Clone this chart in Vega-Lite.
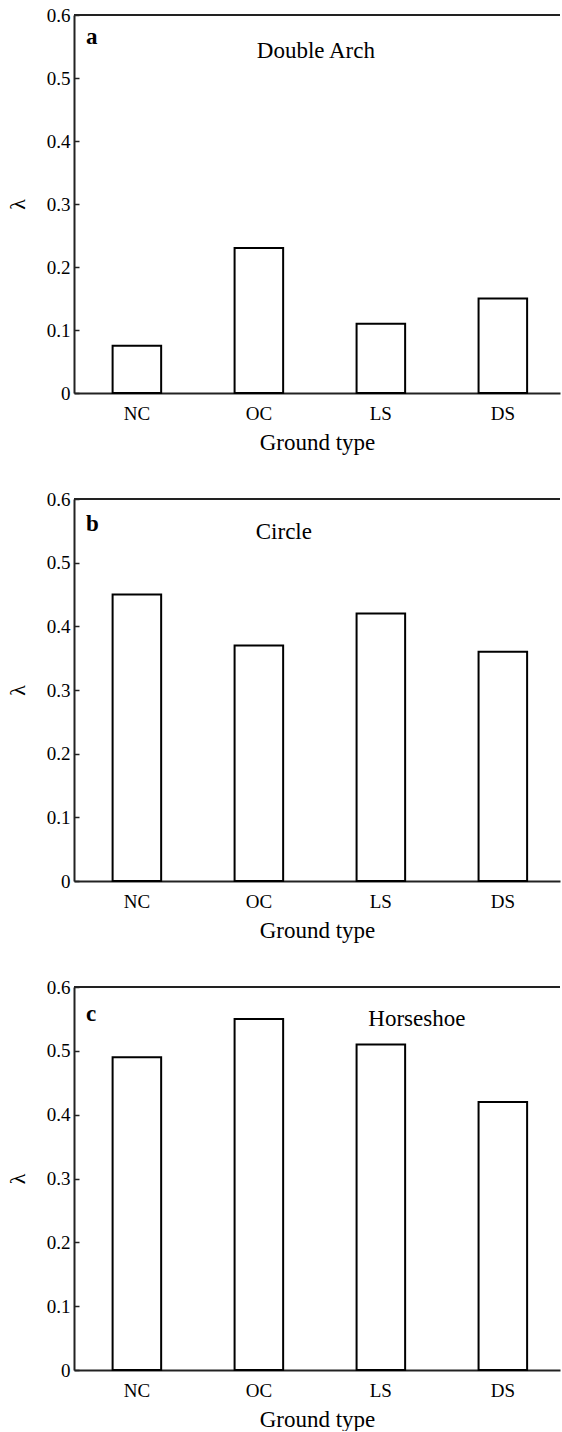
{
  "$schema": "https://vega.github.io/schema/vega-lite/v6.json",
  "padding": {"left": 6, "top": 6, "right": 0, "bottom": 0},
  "background": "white",
  "bounds": "flush",
  "spacing": 106,
  "config": {
    "view": {"stroke": null},
    "font": "Liberation Serif, Times New Roman, serif",
    "text": {"font": "Liberation Serif, Times New Roman, serif"},
    "axisX": {
      "ticks": false,
      "labelAngle": 0,
      "labelFont": "Liberation Serif, Times New Roman, serif",
      "labelFontSize": 19,
      "labelColor": "black",
      "labelPadding": 11,
      "titleFont": "Liberation Serif, Times New Roman, serif",
      "titleFontSize": 23,
      "titleFontWeight": "normal",
      "titleColor": "black",
      "titlePadding": 8,
      "domainColor": "#222",
      "domainWidth": 2
    },
    "axisY": {
      "grid": false,
      "tickSize": -5,
      "tickColor": "#222",
      "tickWidth": 1.5,
      "labelFont": "Liberation Serif, Times New Roman, serif",
      "labelFontSize": 19,
      "labelColor": "black",
      "labelPadding": 9,
      "titleFont": "Liberation Serif, Times New Roman, serif",
      "titleFontSize": 22,
      "titleFontWeight": "normal",
      "titleColor": "black",
      "titlePadding": 17,
      "domainColor": "#222",
      "domainWidth": 2
    }
  },
  "vconcat": [
    {
      "width": 486,
      "height": 378,
      "data": {"values": [
        {"ground": "NC", "lambda": 0.075},
        {"ground": "OC", "lambda": 0.23},
        {"ground": "LS", "lambda": 0.11},
        {"ground": "DS", "lambda": 0.15}
      ]},
      "layer": [
        {
          "mark": {"type": "bar", "fill": "white", "stroke": "black", "strokeWidth": 2},
          "encoding": {
            "x": {"field": "ground", "type": "nominal", "sort": ["NC", "OC", "LS", "DS"], "title": "Ground type",
                  "scale": {"paddingInner": 0.602, "paddingOuter": 0.293, "align": 0.54}},
            "y": {"field": "lambda", "type": "quantitative", "title": "λ", "scale": {"domain": [0, 0.6], "nice": false},
                  "axis": {"values": [0, 0.1, 0.2, 0.3, 0.4, 0.5, 0.6], "format": "~g"}}
          }
        },
        {
          "data": {"values": [{"edge": "top"}]},
          "mark": {"type": "rule", "stroke": "#222", "strokeWidth": 2},
          "encoding": {"y": {"datum": 0.6}}
        },
        {
          "data": {"values": [{"tag": "a"}]},
          "mark": {"type": "text", "align": "left", "fontWeight": "bold", "fontSize": 23, "dx": -51, "dy": 22, "color": "black"},
          "encoding": {"x": {"datum": "NC"}, "y": {"datum": 0.6}, "text": {"field": "tag"}}
        },
        {
          "data": {"values": [{"shape": "Double Arch"}]},
          "mark": {"type": "text", "align": "center", "fontSize": 23, "dx": 57, "dy": 36, "color": "black"},
          "encoding": {"x": {"datum": "OC"}, "y": {"datum": 0.6}, "text": {"field": "shape"}}
        }
      ]
    },
    {
      "width": 486,
      "height": 382,
      "data": {"values": [
        {"ground": "NC", "lambda": 0.45},
        {"ground": "OC", "lambda": 0.37},
        {"ground": "LS", "lambda": 0.42},
        {"ground": "DS", "lambda": 0.36}
      ]},
      "layer": [
        {
          "mark": {"type": "bar", "fill": "white", "stroke": "black", "strokeWidth": 2},
          "encoding": {
            "x": {"field": "ground", "type": "nominal", "sort": ["NC", "OC", "LS", "DS"], "title": "Ground type",
                  "scale": {"paddingInner": 0.602, "paddingOuter": 0.293, "align": 0.54}},
            "y": {"field": "lambda", "type": "quantitative", "title": "λ", "scale": {"domain": [0, 0.6], "nice": false},
                  "axis": {"values": [0, 0.1, 0.2, 0.3, 0.4, 0.5, 0.6], "format": "~g"}}
          }
        },
        {
          "data": {"values": [{"edge": "top"}]},
          "mark": {"type": "rule", "stroke": "#222", "strokeWidth": 2},
          "encoding": {"y": {"datum": 0.6}}
        },
        {
          "data": {"values": [{"tag": "b"}]},
          "mark": {"type": "text", "align": "left", "fontWeight": "bold", "fontSize": 23, "dx": -51, "dy": 25, "color": "black"},
          "encoding": {"x": {"datum": "NC"}, "y": {"datum": 0.6}, "text": {"field": "tag"}}
        },
        {
          "data": {"values": [{"shape": "Circle"}]},
          "mark": {"type": "text", "align": "center", "fontSize": 23, "dx": 25, "dy": 33, "color": "black"},
          "encoding": {"x": {"datum": "OC"}, "y": {"datum": 0.6}, "text": {"field": "shape"}}
        }
      ]
    },
    {
      "width": 486,
      "height": 383,
      "data": {"values": [
        {"ground": "NC", "lambda": 0.49},
        {"ground": "OC", "lambda": 0.55},
        {"ground": "LS", "lambda": 0.51},
        {"ground": "DS", "lambda": 0.42}
      ]},
      "layer": [
        {
          "mark": {"type": "bar", "fill": "white", "stroke": "black", "strokeWidth": 2},
          "encoding": {
            "x": {"field": "ground", "type": "nominal", "sort": ["NC", "OC", "LS", "DS"], "title": "Ground type",
                  "scale": {"paddingInner": 0.602, "paddingOuter": 0.293, "align": 0.54}},
            "y": {"field": "lambda", "type": "quantitative", "title": "λ", "scale": {"domain": [0, 0.6], "nice": false},
                  "axis": {"values": [0, 0.1, 0.2, 0.3, 0.4, 0.5, 0.6], "format": "~g"}}
          }
        },
        {
          "data": {"values": [{"edge": "top"}]},
          "mark": {"type": "rule", "stroke": "#222", "strokeWidth": 2},
          "encoding": {"y": {"datum": 0.6}}
        },
        {
          "data": {"values": [{"tag": "c"}]},
          "mark": {"type": "text", "align": "left", "fontWeight": "bold", "fontSize": 23, "dx": -51, "dy": 27, "color": "black"},
          "encoding": {"x": {"datum": "NC"}, "y": {"datum": 0.6}, "text": {"field": "tag"}}
        },
        {
          "data": {"values": [{"shape": "Horseshoe"}]},
          "mark": {"type": "text", "align": "center", "fontSize": 23, "dx": 36, "dy": 32, "color": "black"},
          "encoding": {"x": {"datum": "LS"}, "y": {"datum": 0.6}, "text": {"field": "shape"}}
        }
      ]
    }
  ]
}
